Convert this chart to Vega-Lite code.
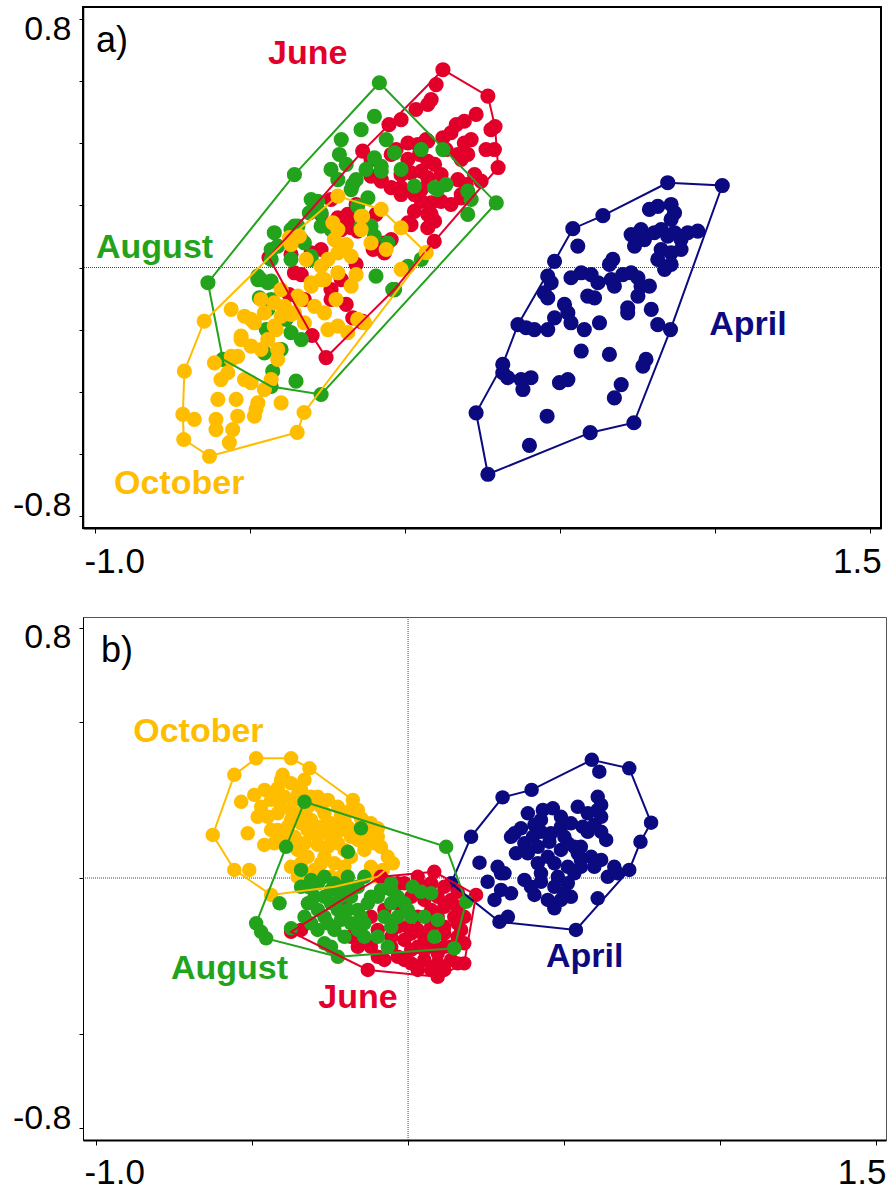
{
"$schema": "https://vega.github.io/schema/vega-lite/v6.json",
"background": "white",
"padding": {"left": 11, "top": 6, "right": 0, "bottom": 0},
"spacing": 36,
"config": {
 "axis": {"grid": false, "labelFont": "Liberation Sans", "labelFontSize": 34, "labelColor": "#000", "tickColor": "#000", "domainColor": "#000", "labelFlush": false}
},
"datasets": {
"ptsA": [
{"g":"April","x":0.847,"y":0.273},{"g":"April","x":1.023,"y":0.264},{"g":"April","x":0.856,"y":-0.200},{"g":"April","x":0.738,"y":-0.500},{"g":"April","x":0.597,"y":-0.532},{"g":"April","x":0.267,"y":-0.666},{"g":"April","x":0.229,"y":-0.468},{"g":"April","x":0.315,"y":-0.312},{"g":"April","x":0.364,"y":-0.184},{"g":"April","x":0.482,"y":0.020},{"g":"April","x":0.541,"y":0.125},{"g":"April","x":0.638,"y":0.167},
{"g":"April","x":0.557,"y":0.069},{"g":"April","x":0.670,"y":0.026},{"g":"April","x":0.659,"y":0.010},{"g":"April","x":0.788,"y":0.187},{"g":"April","x":0.815,"y":0.197},{"g":"April","x":0.858,"y":0.203},{"g":"April","x":0.869,"y":0.176},{"g":"April","x":0.858,"y":0.155},{"g":"April","x":0.729,"y":0.106},{"g":"April","x":0.761,"y":0.122},{"g":"April","x":0.772,"y":0.090},{"g":"April","x":0.740,"y":0.069},{"g":"April","x":0.804,"y":0.112},{"g":"April","x":0.826,"y":0.122},{"g":"April","x":0.847,"y":0.101},{"g":"April","x":0.869,"y":0.112},{"g":"April","x":0.890,"y":0.090},{"g":"April","x":0.912,"y":0.112},{"g":"April","x":0.944,"y":0.117},{"g":"April","x":0.826,"y":0.058},{"g":"April","x":0.858,"y":0.047},{"g":"April","x":0.890,"y":0.058},{"g":"April","x":0.815,"y":0.026},{"g":"April","x":0.837,"y":-0.006},{"g":"April","x":0.858,"y":0.010},{"g":"April","x":0.460,"y":-0.028},{"g":"April","x":0.471,"y":-0.049},{"g":"April","x":0.449,"y":-0.082},{"g":"April","x":0.460,"y":-0.098},{"g":"April","x":0.535,"y":-0.033},{"g":"April","x":0.568,"y":-0.017},{"g":"April","x":0.600,"y":-0.023},{"g":"April","x":0.622,"y":-0.049},{"g":"April","x":0.589,"y":-0.092},{"g":"April","x":0.611,"y":-0.098},{"g":"April","x":0.665,"y":-0.039},{"g":"April","x":0.675,"y":-0.060},{"g":"April","x":0.702,"y":-0.023},{"g":"April","x":0.729,"y":-0.017},{"g":"April","x":0.751,"y":-0.033},{"g":"April","x":0.761,"y":-0.060},{"g":"April","x":0.788,"y":-0.060},{"g":"April","x":0.751,"y":-0.092},{"g":"April","x":0.514,"y":-0.119},{"g":"April","x":0.525,"y":-0.146},{"g":"April","x":0.535,"y":-0.178},{"g":"April","x":0.482,"y":-0.162},{"g":"April","x":0.460,"y":-0.200},{"g":"April","x":0.718,"y":-0.130},{"g":"April","x":0.718,"y":-0.146},{"g":"April","x":0.794,"y":-0.135},{"g":"April","x":0.815,"y":-0.184},{"g":"April","x":0.390,"y":-0.194},{"g":"April","x":0.417,"y":-0.200},{"g":"April","x":0.578,"y":-0.200},{"g":"April","x":0.627,"y":-0.178},{"g":"April","x":0.568,"y":-0.269},{"g":"April","x":0.659,"y":-0.280},{"g":"April","x":0.777,"y":-0.296},{"g":"April","x":0.767,"y":-0.318},{"g":"April","x":0.315,"y":-0.339},{"g":"April","x":0.331,"y":-0.355},{"g":"April","x":0.374,"y":-0.361},{"g":"April","x":0.406,"y":-0.355},{"g":"April","x":0.380,"y":-0.393},{"g":"April","x":0.498,"y":-0.371},{"g":"April","x":0.525,"y":-0.361},{"g":"April","x":0.697,"y":-0.377},{"g":"April","x":0.675,"y":-0.420},{"g":"April","x":0.458,"y":-0.479},{"g":"April","x":0.401,"y":-0.573},
{"g":"June","x":0.122,"y":0.637},{"g":"June","x":0.267,"y":0.552},{"g":"June","x":0.290,"y":0.454},{"g":"June","x":0.300,"y":0.322},{"g":"June","x":0.094,"y":0.084},{"g":"June","x":-0.035,"y":-0.071},{"g":"June","x":-0.140,"y":-0.175},{"g":"June","x":-0.255,"y":-0.290},{"g":"June","x":-0.300,"y":-0.219},{"g":"June","x":-0.374,"y":-0.087},{"g":"June","x":-0.439,"y":0.032},{"g":"June","x":-0.137,"y":0.375},{"g":"June","x":-0.052,"y":0.460},
{"g":"June","x":0.100,"y":0.589},{"g":"June","x":0.073,"y":0.525},{"g":"June","x":0.191,"y":0.471},{"g":"June","x":0.288,"y":0.380},{"g":"June","x":0.009,"y":0.401},{"g":"June","x":0.041,"y":0.396},{"g":"June","x":0.073,"y":0.407},{"g":"June","x":0.122,"y":0.418},{"g":"June","x":0.148,"y":0.434},{"g":"June","x":0.191,"y":0.401},{"g":"June","x":-0.045,"y":0.364},{"g":"June","x":0.009,"y":0.348},{"g":"June","x":0.046,"y":0.364},{"g":"June","x":0.073,"y":0.342},{"g":"June","x":0.095,"y":0.332},{"g":"June","x":0.170,"y":0.364},{"g":"June","x":0.202,"y":0.364},{"g":"June","x":-0.013,"y":0.299},{"g":"June","x":0.019,"y":0.305},{"g":"June","x":0.052,"y":0.310},{"g":"June","x":0.073,"y":0.289},{"g":"June","x":-0.110,"y":0.294},{"g":"June","x":-0.077,"y":0.278},{"g":"June","x":-0.045,"y":0.257},{"g":"June","x":-0.013,"y":0.257},{"g":"June","x":0.030,"y":0.235},{"g":"June","x":0.052,"y":0.213},{"g":"June","x":0.084,"y":0.208},{"g":"June","x":0.116,"y":0.213},{"g":"June","x":0.170,"y":0.283},{"g":"June","x":0.181,"y":0.235},{"g":"June","x":0.224,"y":0.299},{"g":"June","x":0.245,"y":0.278},{"g":"June","x":0.073,"y":0.171},{"g":"June","x":0.095,"y":0.149},{"g":"June","x":0.073,"y":0.128},{"g":"June","x":0.030,"y":0.181},{"g":"June","x":0.009,"y":0.144},{"g":"June","x":0.181,"y":0.224},{"g":"June","x":-0.185,"y":0.160},{"g":"June","x":-0.174,"y":0.128},{"g":"June","x":-0.153,"y":0.117},{"g":"June","x":-0.217,"y":0.160},{"g":"June","x":-0.185,"y":0.171},{"g":"June","x":-0.153,"y":0.122},{"g":"June","x":-0.067,"y":0.047},{"g":"June","x":-0.303,"y":0.047},{"g":"June","x":-0.357,"y":-0.017},{"g":"June","x":-0.196,"y":0.155},{"g":"June","x":-0.067,"y":0.079},{"g":"June","x":-0.239,"y":-0.071},{"g":"June","x":-0.169,"y":-0.162},{"g":"June","x":-0.137,"y":-0.173},{"g":"June","x":-0.325,"y":-0.103},{"g":"June","x":-0.206,"y":0.122},{"g":"June","x":-0.239,"y":0.219},{"g":"June","x":-0.158,"y":0.203},{"g":"June","x":-0.094,"y":0.171},{"g":"June","x":-0.335,"y":0.090},{"g":"June","x":-0.271,"y":0.171},
{"g":"June","x":-0.013,"y":0.476},{"g":"June","x":0.035,"y":0.509},{"g":"June","x":0.084,"y":0.541},{"g":"June","x":0.165,"y":0.460},{"g":"June","x":0.213,"y":0.412},{"g":"June","x":0.261,"y":0.380},{"g":"June","x":0.181,"y":0.348},{"g":"June","x":0.116,"y":0.299},{"g":"June","x":0.052,"y":0.251},{"g":"June","x":-0.013,"y":0.235},{"g":"June","x":-0.077,"y":0.283},{"g":"June","x":-0.110,"y":0.348},{"g":"June","x":-0.029,"y":0.380},{"g":"June","x":0.068,"y":0.412},{"g":"June","x":0.132,"y":0.380},{"g":"June","x":0.197,"y":0.267},{"g":"June","x":0.148,"y":0.203},{"g":"June","x":0.084,"y":0.171},{"g":"June","x":0.019,"y":0.138},{"g":"June","x":-0.045,"y":0.090},{"g":"June","x":-0.103,"y":0.058},{"g":"June","x":-0.158,"y":0.010},{"g":"June","x":-0.206,"y":-0.039},{"g":"June","x":-0.239,"y":-0.103},{"g":"June","x":-0.190,"y":-0.119},{"g":"June","x":-0.271,"y":0.058},{"g":"June","x":-0.335,"y":-0.023},{"g":"June","x":-0.368,"y":0.042},{"g":"June","x":0.229,"y":0.493},{"g":"June","x":0.277,"y":0.444},
{"g":"August","x":-0.083,"y":0.595},{"g":"August","x":0.294,"y":0.208},{"g":"August","x":-0.271,"y":-0.409},{"g":"August","x":-0.432,"y":-0.383},{"g":"August","x":-0.588,"y":-0.296},{"g":"August","x":-0.636,"y":-0.049},{"g":"August","x":-0.357,"y":0.299},
{"g":"August","x":-0.099,"y":0.487},{"g":"August","x":-0.212,"y":0.364},{"g":"August","x":-0.217,"y":0.283},{"g":"August","x":-0.169,"y":0.267},{"g":"August","x":-0.077,"y":0.326},{"g":"August","x":-0.034,"y":0.369},{"g":"August","x":0.030,"y":0.262},{"g":"August","x":0.105,"y":0.251},{"g":"August","x":0.122,"y":0.380},{"g":"August","x":-0.292,"y":0.197},{"g":"August","x":-0.309,"y":0.176},{"g":"August","x":-0.422,"y":0.112},{"g":"August","x":-0.357,"y":0.133},{"g":"August","x":-0.335,"y":0.090},{"g":"August","x":-0.411,"y":0.069},{"g":"August","x":-0.475,"y":-0.028},{"g":"August","x":-0.443,"y":-0.049},{"g":"August","x":-0.368,"y":0.026},{"g":"August","x":-0.228,"y":0.112},{"g":"August","x":-0.196,"y":0.069},{"g":"August","x":-0.099,"y":0.101},{"g":"August","x":-0.034,"y":-0.071},{"g":"August","x":-0.094,"y":-0.028},{"g":"August","x":0.052,"y":0.026},{"g":"August","x":-0.271,"y":0.176},{"g":"August","x":-0.142,"y":0.133},{"g":"August","x":-0.120,"y":0.224},{"g":"August","x":-0.099,"y":0.353},{"g":"August","x":-0.077,"y":0.310},{"g":"August","x":0.095,"y":0.257},{"g":"August","x":0.202,"y":0.246},{"g":"August","x":0.202,"y":0.171},{"g":"August","x":-0.282,"y":0.213},{"g":"August","x":-0.432,"y":0.026},{"g":"August","x":-0.346,"y":0.133},{"g":"August","x":-0.325,"y":0.079},{"g":"August","x":-0.303,"y":0.036},{"g":"August","x":-0.282,"y":0.187},{"g":"August","x":-0.475,"y":-0.039},{"g":"August","x":-0.432,"y":-0.044},{"g":"August","x":-0.470,"y":-0.098},{"g":"August","x":-0.443,"y":-0.135},{"g":"August","x":-0.368,"y":-0.210},{"g":"August","x":-0.454,"y":-0.275},{"g":"August","x":-0.427,"y":-0.334},{"g":"August","x":-0.352,"y":-0.366},{"g":"August","x":-0.040,"y":-0.071},{"g":"August","x":0.009,"y":0.004},{"g":"August","x":-0.110,"y":0.133},{"g":"August","x":-0.056,"y":0.079},{"g":"August","x":-0.153,"y":0.197},{"g":"August","x":-0.271,"y":0.133},{"g":"August","x":-0.174,"y":0.251},{"g":"August","x":-0.126,"y":0.316},{"g":"August","x":-0.190,"y":0.332},
{"g":"August","x":-0.206,"y":0.412},{"g":"August","x":-0.142,"y":0.444},{"g":"August","x":-0.061,"y":0.412},{"g":"August","x":-0.239,"y":0.316},{"g":"August","x":-0.158,"y":0.283},{"g":"August","x":-0.303,"y":0.219},{"g":"August","x":-0.368,"y":0.122},{"g":"August","x":-0.432,"y":0.058},{"g":"August","x":-0.465,"y":-0.039},{"g":"August","x":-0.432,"y":-0.103},{"g":"August","x":-0.384,"y":-0.167},{"g":"August","x":-0.335,"y":-0.232},{"g":"August","x":-0.400,"y":-0.264},{"g":"August","x":-0.448,"y":-0.200},{"g":"August","x":-0.013,"y":0.316},{"g":"August","x":0.052,"y":0.380},{"g":"August","x":0.132,"y":0.267},{"g":"August","x":0.213,"y":0.219},{"g":"August","x":-0.239,"y":0.122},{"g":"August","x":-0.303,"y":0.026},
{"g":"October","x":-0.217,"y":0.230},{"g":"October","x":-0.077,"y":0.187},{"g":"October","x":0.068,"y":0.048},{"g":"October","x":-0.326,"y":-0.467},{"g":"October","x":-0.348,"y":-0.531},{"g":"October","x":-0.631,"y":-0.608},{"g":"October","x":-0.714,"y":-0.554},{"g":"October","x":-0.717,"y":-0.473},{"g":"October","x":-0.712,"y":-0.334},{"g":"October","x":-0.648,"y":-0.173},{"g":"October","x":-0.373,"y":0.096},
{"g":"October","x":-0.341,"y":0.101},{"g":"October","x":-0.217,"y":0.122},{"g":"October","x":-0.233,"y":0.144},{"g":"October","x":-0.142,"y":0.165},{"g":"October","x":-0.174,"y":0.036},{"g":"October","x":-0.110,"y":0.079},{"g":"October","x":-0.013,"y":0.128},{"g":"October","x":-0.013,"y":-0.006},{"g":"October","x":-0.249,"y":0.026},{"g":"October","x":-0.217,"y":-0.017},{"g":"October","x":-0.260,"y":-0.039},{"g":"October","x":-0.303,"y":-0.060},{"g":"October","x":-0.346,"y":-0.092},{"g":"October","x":-0.389,"y":-0.125},{"g":"October","x":-0.422,"y":-0.114},{"g":"October","x":-0.561,"y":-0.135},{"g":"October","x":-0.518,"y":-0.157},{"g":"October","x":-0.486,"y":-0.178},{"g":"October","x":-0.454,"y":-0.146},{"g":"October","x":-0.422,"y":-0.189},{"g":"October","x":-0.400,"y":-0.157},{"g":"October","x":-0.357,"y":-0.146},{"g":"October","x":-0.292,"y":-0.125},{"g":"October","x":-0.260,"y":-0.146},{"g":"October","x":-0.325,"y":-0.178},{"g":"October","x":-0.249,"y":-0.200},{"g":"October","x":-0.217,"y":-0.189},{"g":"October","x":-0.185,"y":-0.210},{"g":"October","x":-0.153,"y":-0.167},{"g":"October","x":-0.131,"y":-0.178},{"g":"October","x":-0.529,"y":-0.221},{"g":"October","x":-0.497,"y":-0.253},{"g":"October","x":-0.540,"y":-0.286},{"g":"October","x":-0.443,"y":-0.232},{"g":"October","x":-0.411,"y":-0.264},{"g":"October","x":-0.411,"y":-0.296},{"g":"October","x":-0.615,"y":-0.307},{"g":"October","x":-0.572,"y":-0.339},{"g":"October","x":-0.518,"y":-0.361},{"g":"October","x":-0.497,"y":-0.371},{"g":"October","x":-0.454,"y":-0.393},{"g":"October","x":-0.604,"y":-0.425},{"g":"October","x":-0.475,"y":-0.436},{"g":"October","x":-0.486,"y":-0.479},{"g":"October","x":-0.400,"y":-0.436},{"g":"October","x":-0.540,"y":-0.479},{"g":"October","x":-0.680,"y":-0.489},{"g":"October","x":-0.610,"y":-0.522},{"g":"October","x":-0.556,"y":-0.522},{"g":"October","x":-0.567,"y":-0.564},{"g":"October","x":-0.561,"y":-0.286},{"g":"October","x":-0.137,"y":0.165},{"g":"October","x":-0.228,"y":0.090},{"g":"October","x":-0.217,"y":0.047},{"g":"October","x":-0.303,"y":-0.049},{"g":"October","x":-0.271,"y":0.004},{"g":"October","x":-0.174,"y":-0.060},
{"g":"October","x":-0.368,"y":0.074},{"g":"October","x":-0.319,"y":0.026},{"g":"October","x":-0.271,"y":-0.039},{"g":"October","x":-0.335,"y":-0.103},{"g":"October","x":-0.400,"y":-0.071},{"g":"October","x":-0.465,"y":-0.103},{"g":"October","x":-0.497,"y":-0.167},{"g":"October","x":-0.529,"y":-0.232},{"g":"October","x":-0.561,"y":-0.296},{"g":"October","x":-0.465,"y":-0.264},{"g":"October","x":-0.416,"y":-0.200},{"g":"October","x":-0.368,"y":-0.151},{"g":"October","x":-0.190,"y":0.074},{"g":"October","x":-0.142,"y":0.122},{"g":"October","x":-0.061,"y":0.058},{"g":"October","x":-0.158,"y":-0.023},{"g":"October","x":-0.223,"y":-0.103},{"g":"October","x":-0.594,"y":-0.361},{"g":"October","x":-0.545,"y":-0.425},{"g":"October","x":-0.610,"y":-0.489},{"g":"October","x":-0.481,"y":-0.457},{"g":"October","x":-0.432,"y":-0.361}
],
"hullA": [
{"g":"April","o":1,"x":0.847,"y":0.273},{"g":"April","o":2,"x":1.023,"y":0.264},{"g":"April","o":3,"x":0.856,"y":-0.200},{"g":"April","o":4,"x":0.738,"y":-0.500},{"g":"April","o":5,"x":0.597,"y":-0.532},{"g":"April","o":6,"x":0.267,"y":-0.666},{"g":"April","o":7,"x":0.229,"y":-0.468},{"g":"April","o":8,"x":0.315,"y":-0.312},{"g":"April","o":9,"x":0.364,"y":-0.184},{"g":"April","o":10,"x":0.482,"y":0.020},{"g":"April","o":11,"x":0.541,"y":0.125},{"g":"April","o":12,"x":0.638,"y":0.167},{"g":"April","o":13,"x":0.847,"y":0.273},
{"g":"June","o":1,"x":0.122,"y":0.637},{"g":"June","o":2,"x":0.267,"y":0.552},{"g":"June","o":3,"x":0.290,"y":0.454},{"g":"June","o":4,"x":0.300,"y":0.322},{"g":"June","o":5,"x":0.094,"y":0.084},{"g":"June","o":6,"x":-0.035,"y":-0.071},{"g":"June","o":7,"x":-0.140,"y":-0.175},{"g":"June","o":8,"x":-0.255,"y":-0.290},{"g":"June","o":9,"x":-0.300,"y":-0.219},{"g":"June","o":10,"x":-0.374,"y":-0.087},{"g":"June","o":11,"x":-0.439,"y":0.032},{"g":"June","o":12,"x":-0.137,"y":0.375},{"g":"June","o":13,"x":-0.052,"y":0.460},{"g":"June","o":14,"x":0.122,"y":0.637},
{"g":"August","o":1,"x":-0.083,"y":0.595},{"g":"August","o":2,"x":0.294,"y":0.208},{"g":"August","o":3,"x":-0.271,"y":-0.409},{"g":"August","o":4,"x":-0.432,"y":-0.383},{"g":"August","o":5,"x":-0.588,"y":-0.296},{"g":"August","o":6,"x":-0.636,"y":-0.049},{"g":"August","o":7,"x":-0.357,"y":0.299},{"g":"August","o":8,"x":-0.083,"y":0.595},
{"g":"October","o":1,"x":-0.217,"y":0.230},{"g":"October","o":2,"x":-0.077,"y":0.187},{"g":"October","o":3,"x":0.068,"y":0.048},{"g":"October","o":4,"x":-0.326,"y":-0.467},{"g":"October","o":5,"x":-0.348,"y":-0.531},{"g":"October","o":6,"x":-0.631,"y":-0.608},{"g":"October","o":7,"x":-0.714,"y":-0.554},{"g":"October","o":8,"x":-0.717,"y":-0.473},{"g":"October","o":9,"x":-0.712,"y":-0.334},{"g":"October","o":10,"x":-0.648,"y":-0.173},{"g":"October","o":11,"x":-0.373,"y":0.096},{"g":"October","o":12,"x":-0.217,"y":0.230}
],
"ptsB": [
{"g":"April","x":0.589,"y":0.378},{"g":"April","x":0.709,"y":0.351},{"g":"April","x":0.779,"y":0.177},{"g":"April","x":0.745,"y":0.116},{"g":"April","x":0.709,"y":0.026},{"g":"April","x":0.538,"y":-0.166},{"g":"April","x":0.293,"y":-0.140},{"g":"April","x":0.138,"y":-0.017},{"g":"April","x":0.202,"y":0.132},{"g":"April","x":0.303,"y":0.258},{"g":"April","x":0.396,"y":0.282},
{"g":"April","x":0.613,"y":0.340},{"g":"April","x":0.608,"y":0.260},{"g":"April","x":0.619,"y":0.234},{"g":"April","x":0.544,"y":0.228},{"g":"April","x":0.432,"y":0.218},{"g":"April","x":0.464,"y":0.223},{"g":"April","x":0.490,"y":0.196},{"g":"April","x":0.362,"y":0.159},{"g":"April","x":0.341,"y":0.143},{"g":"April","x":0.405,"y":0.170},{"g":"April","x":0.400,"y":0.132},{"g":"April","x":0.373,"y":0.111},{"g":"April","x":0.426,"y":0.148},{"g":"April","x":0.453,"y":0.116},{"g":"April","x":0.501,"y":0.132},{"g":"April","x":0.560,"y":0.164},{"g":"April","x":0.597,"y":0.170},{"g":"April","x":0.619,"y":0.148},{"g":"April","x":0.635,"y":0.122},{"g":"April","x":0.576,"y":0.148},{"g":"April","x":0.533,"y":0.100},{"g":"April","x":0.544,"y":0.079},{"g":"April","x":0.490,"y":0.090},{"g":"April","x":0.448,"y":0.068},{"g":"April","x":0.416,"y":0.047},{"g":"April","x":0.346,"y":0.079},{"g":"April","x":0.229,"y":0.049},{"g":"April","x":0.287,"y":0.036},{"g":"April","x":0.309,"y":0.015},{"g":"April","x":0.255,"y":-0.012},{"g":"April","x":0.298,"y":-0.038},{"g":"April","x":0.330,"y":-0.049},{"g":"April","x":0.277,"y":-0.070},{"g":"April","x":0.320,"y":-0.124},{"g":"April","x":0.394,"y":-0.028},{"g":"April","x":0.405,"y":-0.054},{"g":"April","x":0.426,"y":0.015},{"g":"April","x":0.426,"y":-0.012},{"g":"April","x":0.480,"y":0.004},{"g":"April","x":0.512,"y":-0.017},{"g":"April","x":0.533,"y":0.015},{"g":"April","x":0.522,"y":-0.060},{"g":"April","x":0.469,"y":-0.097},{"g":"April","x":0.490,"y":-0.070},{"g":"April","x":0.608,"y":-0.065},{"g":"April","x":0.619,"y":0.058},{"g":"April","x":0.661,"y":0.036},{"g":"April","x":0.640,"y":0.004},{"g":"April","x":0.672,"y":0.015},{"g":"April","x":0.587,"y":0.068},{"g":"April","x":0.554,"y":0.036},
{"g":"April","x":0.384,"y":0.207},{"g":"April","x":0.426,"y":0.186},{"g":"April","x":0.458,"y":0.143},{"g":"April","x":0.490,"y":0.164},{"g":"April","x":0.522,"y":0.175},{"g":"April","x":0.576,"y":0.207},{"g":"April","x":0.608,"y":0.218},{"g":"April","x":0.619,"y":0.196},{"g":"April","x":0.384,"y":0.079},{"g":"April","x":0.416,"y":0.100},{"g":"April","x":0.469,"y":0.047},{"g":"April","x":0.512,"y":0.036},{"g":"April","x":0.554,"y":0.058},{"g":"April","x":0.597,"y":0.036},{"g":"April","x":0.512,"y":0.111},{"g":"April","x":0.554,"y":0.100},{"g":"April","x":0.373,"y":-0.006},{"g":"April","x":0.469,"y":-0.028},{"g":"April","x":0.501,"y":-0.049},{"g":"April","x":0.448,"y":-0.070},{"g":"April","x":0.298,"y":0.015},{"g":"April","x":0.330,"y":0.132},
{"g":"October","x":-0.557,"y":0.330},{"g":"October","x":-0.487,"y":0.383},{"g":"October","x":-0.375,"y":0.383},{"g":"October","x":-0.316,"y":0.351},{"g":"October","x":-0.177,"y":0.250},{"g":"October","x":-0.097,"y":0.159},{"g":"October","x":-0.049,"y":0.047},{"g":"October","x":-0.097,"y":0.004},{"g":"October","x":-0.236,"y":-0.028},{"g":"October","x":-0.439,"y":-0.054},{"g":"October","x":-0.557,"y":0.026},{"g":"October","x":-0.626,"y":0.138},
{"g":"October","x":-0.402,"y":0.330},{"g":"October","x":-0.375,"y":0.303},{"g":"October","x":-0.418,"y":0.287},{"g":"October","x":-0.332,"y":0.314},{"g":"October","x":-0.354,"y":0.266},{"g":"October","x":-0.493,"y":0.266},{"g":"October","x":-0.535,"y":0.244},{"g":"October","x":-0.471,"y":0.228},{"g":"October","x":-0.439,"y":0.250},{"g":"October","x":-0.407,"y":0.228},{"g":"October","x":-0.375,"y":0.218},{"g":"October","x":-0.321,"y":0.228},{"g":"October","x":-0.289,"y":0.260},{"g":"October","x":-0.279,"y":0.228},{"g":"October","x":-0.257,"y":0.250},{"g":"October","x":-0.225,"y":0.228},{"g":"October","x":-0.215,"y":0.202},{"g":"October","x":-0.183,"y":0.218},{"g":"October","x":-0.151,"y":0.191},{"g":"October","x":-0.129,"y":0.154},{"g":"October","x":-0.161,"y":0.154},{"g":"October","x":-0.193,"y":0.164},{"g":"October","x":-0.514,"y":0.143},{"g":"October","x":-0.461,"y":0.106},{"g":"October","x":-0.429,"y":0.111},{"g":"October","x":-0.418,"y":0.154},{"g":"October","x":-0.386,"y":0.164},{"g":"October","x":-0.364,"y":0.132},{"g":"October","x":-0.343,"y":0.175},{"g":"October","x":-0.311,"y":0.186},{"g":"October","x":-0.311,"y":0.143},{"g":"October","x":-0.279,"y":0.164},{"g":"October","x":-0.257,"y":0.143},{"g":"October","x":-0.289,"y":0.106},{"g":"October","x":-0.257,"y":0.100},{"g":"October","x":-0.225,"y":0.111},{"g":"October","x":-0.204,"y":0.090},{"g":"October","x":-0.161,"y":0.122},{"g":"October","x":-0.140,"y":0.090},{"g":"October","x":-0.108,"y":0.111},{"g":"October","x":-0.087,"y":0.100},{"g":"October","x":-0.375,"y":0.036},{"g":"October","x":-0.343,"y":0.047},{"g":"October","x":-0.300,"y":0.026},{"g":"October","x":-0.354,"y":0.004},{"g":"October","x":-0.268,"y":0.068},{"g":"October","x":-0.236,"y":0.047},{"g":"October","x":-0.204,"y":0.036},{"g":"October","x":-0.247,"y":0.004},{"g":"October","x":-0.183,"y":0.068},{"g":"October","x":-0.119,"y":0.036},{"g":"October","x":-0.081,"y":0.026},{"g":"October","x":-0.509,"y":0.026},
{"g":"October","x":-0.460,"y":0.282},{"g":"October","x":-0.428,"y":0.271},{"g":"October","x":-0.396,"y":0.260},{"g":"October","x":-0.364,"y":0.250},{"g":"October","x":-0.450,"y":0.196},{"g":"October","x":-0.418,"y":0.207},{"g":"October","x":-0.375,"y":0.186},{"g":"October","x":-0.343,"y":0.207},{"g":"October","x":-0.322,"y":0.154},{"g":"October","x":-0.290,"y":0.132},{"g":"October","x":-0.247,"y":0.175},{"g":"October","x":-0.236,"y":0.132},{"g":"October","x":-0.215,"y":0.154},{"g":"October","x":-0.183,"y":0.132},{"g":"October","x":-0.140,"y":0.122},{"g":"October","x":-0.482,"y":0.196},{"g":"October","x":-0.439,"y":0.154},{"g":"October","x":-0.396,"y":0.122},{"g":"October","x":-0.354,"y":0.090},{"g":"October","x":-0.322,"y":0.068},{"g":"October","x":-0.279,"y":0.047},{"g":"October","x":-0.332,"y":0.111},{"g":"October","x":-0.407,"y":0.314},{"g":"October","x":-0.343,"y":0.282},{"g":"October","x":-0.311,"y":0.260},{"g":"October","x":-0.268,"y":0.207},{"g":"October","x":-0.204,"y":0.186},{"g":"October","x":-0.161,"y":0.218},{"g":"October","x":-0.119,"y":0.175},{"g":"October","x":-0.097,"y":0.132},{"g":"October","x":-0.065,"y":0.068},{"g":"October","x":-0.215,"y":0.004},
{"g":"June","x":-0.087,"y":0.004},{"g":"June","x":0.084,"y":0.020},{"g":"June","x":0.218,"y":-0.054},{"g":"June","x":0.180,"y":-0.273},{"g":"June","x":0.095,"y":-0.316},{"g":"June","x":-0.129,"y":-0.294},{"g":"June","x":-0.375,"y":-0.172},{"g":"June","x":-0.204,"y":-0.065},
{"g":"June","x":-0.044,"y":-0.028},{"g":"June","x":-0.012,"y":-0.017},{"g":"June","x":0.031,"y":0.004},{"g":"June","x":0.074,"y":-0.017},{"g":"June","x":0.116,"y":-0.028},{"g":"June","x":0.159,"y":-0.044},{"g":"June","x":0.010,"y":-0.060},{"g":"June","x":0.052,"y":-0.070},{"g":"June","x":-0.022,"y":-0.092},{"g":"June","x":-0.119,"y":-0.124},{"g":"June","x":-0.076,"y":-0.102},{"g":"June","x":-0.044,"y":-0.145},{"g":"June","x":-0.001,"y":-0.156},{"g":"June","x":0.031,"y":-0.166},{"g":"June","x":0.074,"y":-0.156},{"g":"June","x":0.116,"y":-0.156},{"g":"June","x":0.148,"y":-0.124},{"g":"June","x":-0.012,"y":-0.198},{"g":"June","x":0.031,"y":-0.220},{"g":"June","x":0.074,"y":-0.209},{"g":"June","x":0.116,"y":-0.220},{"g":"June","x":0.159,"y":-0.188},{"g":"June","x":0.010,"y":-0.273},{"g":"June","x":0.052,"y":-0.262},{"g":"June","x":0.095,"y":-0.273},{"g":"June","x":0.138,"y":-0.262},{"g":"June","x":-0.033,"y":-0.252},{"g":"June","x":-0.076,"y":-0.262},{"g":"June","x":-0.119,"y":-0.220},{"g":"June","x":-0.183,"y":-0.188},{"g":"June","x":-0.161,"y":-0.220},{"g":"June","x":-0.343,"y":-0.166},{"g":"June","x":-0.097,"y":-0.166},{"g":"June","x":-0.054,"y":-0.188},{"g":"June","x":0.159,"y":-0.273},{"g":"June","x":0.116,"y":-0.092},{"g":"June","x":0.180,"y":-0.209},
{"g":"June","x":-0.033,"y":-0.017},{"g":"June","x":0.052,"y":-0.028},{"g":"June","x":0.095,"y":-0.060},{"g":"June","x":0.138,"y":-0.070},{"g":"June","x":0.159,"y":-0.092},{"g":"June","x":0.074,"y":-0.102},{"g":"June","x":0.031,"y":-0.124},{"g":"June","x":0.095,"y":-0.124},{"g":"June","x":0.159,"y":-0.145},{"g":"June","x":0.052,"y":-0.188},{"g":"June","x":0.010,"y":-0.230},{"g":"June","x":0.052,"y":-0.230},{"g":"June","x":0.095,"y":-0.241},{"g":"June","x":0.138,"y":-0.220},{"g":"June","x":-0.012,"y":-0.262},{"g":"June","x":0.031,"y":-0.294},{"g":"June","x":0.074,"y":-0.294},{"g":"June","x":0.116,"y":-0.294},{"g":"June","x":-0.054,"y":-0.220},{"g":"June","x":-0.097,"y":-0.252},{"g":"June","x":0.170,"y":-0.166},{"g":"June","x":0.010,"y":-0.178},{"g":"June","x":-0.033,"y":-0.156},{"g":"June","x":0.116,"y":-0.178},{"g":"June","x":0.180,"y":-0.124},
{"g":"August","x":-0.332,"y":0.244},{"g":"August","x":0.122,"y":0.100},{"g":"August","x":0.186,"y":-0.076},{"g":"August","x":0.148,"y":-0.225},{"g":"August","x":-0.225,"y":-0.252},{"g":"August","x":-0.455,"y":-0.193},{"g":"August","x":-0.487,"y":-0.145},{"g":"August","x":-0.391,"y":0.100},
{"g":"August","x":-0.151,"y":0.159},{"g":"August","x":-0.193,"y":0.084},{"g":"August","x":-0.343,"y":0.026},{"g":"August","x":-0.412,"y":-0.081},{"g":"August","x":-0.471,"y":-0.172},{"g":"August","x":-0.375,"y":-0.161},{"g":"August","x":-0.321,"y":-0.028},{"g":"August","x":-0.289,"y":-0.017},{"g":"August","x":-0.268,"y":-0.060},{"g":"August","x":-0.247,"y":-0.038},{"g":"August","x":-0.204,"y":-0.028},{"g":"August","x":-0.321,"y":-0.081},{"g":"August","x":-0.289,"y":-0.102},{"g":"August","x":-0.311,"y":-0.145},{"g":"August","x":-0.268,"y":-0.124},{"g":"August","x":-0.236,"y":-0.166},{"g":"August","x":-0.204,"y":-0.188},{"g":"August","x":-0.268,"y":-0.209},{"g":"August","x":-0.183,"y":-0.060},{"g":"August","x":-0.161,"y":-0.028},{"g":"August","x":-0.140,"y":0.004},{"g":"August","x":-0.161,"y":-0.102},{"g":"August","x":-0.129,"y":-0.081},{"g":"August","x":-0.097,"y":-0.060},{"g":"August","x":-0.054,"y":-0.081},{"g":"August","x":-0.140,"y":-0.145},{"g":"August","x":-0.097,"y":-0.188},{"g":"August","x":-0.065,"y":-0.220},{"g":"August","x":-0.033,"y":-0.124},{"g":"August","x":0.010,"y":-0.124},{"g":"August","x":0.052,"y":-0.124},{"g":"August","x":0.095,"y":-0.134},{"g":"August","x":0.042,"y":-0.044},{"g":"August","x":0.074,"y":-0.049},{"g":"August","x":-0.054,"y":-0.038},{"g":"August","x":0.084,"y":-0.188},{"g":"August","x":-0.193,"y":0.004},{"g":"August","x":-0.225,"y":-0.102},{"g":"August","x":-0.012,"y":-0.081},{"g":"August","x":0.015,"y":-0.028},
{"g":"August","x":-0.311,"y":-0.006},{"g":"August","x":-0.268,"y":0.004},{"g":"August","x":-0.236,"y":-0.017},{"g":"August","x":-0.300,"y":-0.060},{"g":"August","x":-0.247,"y":-0.081},{"g":"August","x":-0.215,"y":-0.060},{"g":"August","x":-0.193,"y":-0.102},{"g":"August","x":-0.290,"y":-0.166},{"g":"August","x":-0.258,"y":-0.145},{"g":"August","x":-0.215,"y":-0.134},{"g":"August","x":-0.183,"y":-0.145},{"g":"August","x":-0.151,"y":-0.124},{"g":"August","x":-0.119,"y":-0.060},{"g":"August","x":-0.087,"y":-0.038},{"g":"August","x":-0.033,"y":-0.060},{"g":"August","x":-0.001,"y":-0.102},{"g":"August","x":-0.076,"y":-0.124},{"g":"August","x":-0.054,"y":-0.156},{"g":"August","x":-0.140,"y":-0.188},{"g":"August","x":-0.247,"y":-0.220},{"g":"August","x":-0.343,"y":-0.028},{"g":"August","x":-0.332,"y":-0.124},{"g":"August","x":-0.161,"y":-0.166},{"g":"August","x":-0.054,"y":-0.017}
],
"hullB": [
{"g":"April","o":1,"x":0.589,"y":0.378},{"g":"April","o":2,"x":0.709,"y":0.351},{"g":"April","o":3,"x":0.779,"y":0.177},{"g":"April","o":4,"x":0.745,"y":0.116},{"g":"April","o":5,"x":0.709,"y":0.026},{"g":"April","o":6,"x":0.538,"y":-0.166},{"g":"April","o":7,"x":0.293,"y":-0.140},{"g":"April","o":8,"x":0.138,"y":-0.017},{"g":"April","o":9,"x":0.202,"y":0.132},{"g":"April","o":10,"x":0.303,"y":0.258},{"g":"April","o":11,"x":0.396,"y":0.282},{"g":"April","o":12,"x":0.589,"y":0.378},
{"g":"October","o":1,"x":-0.557,"y":0.330},{"g":"October","o":2,"x":-0.487,"y":0.383},{"g":"October","o":3,"x":-0.375,"y":0.383},{"g":"October","o":4,"x":-0.316,"y":0.351},{"g":"October","o":5,"x":-0.177,"y":0.250},{"g":"October","o":6,"x":-0.097,"y":0.159},{"g":"October","o":7,"x":-0.049,"y":0.047},{"g":"October","o":8,"x":-0.097,"y":0.004},{"g":"October","o":9,"x":-0.236,"y":-0.028},{"g":"October","o":10,"x":-0.439,"y":-0.054},{"g":"October","o":11,"x":-0.557,"y":0.026},{"g":"October","o":12,"x":-0.626,"y":0.138},{"g":"October","o":13,"x":-0.557,"y":0.330},
{"g":"August","o":1,"x":-0.332,"y":0.244},{"g":"August","o":2,"x":0.122,"y":0.100},{"g":"August","o":3,"x":0.186,"y":-0.076},{"g":"August","o":4,"x":0.148,"y":-0.225},{"g":"August","o":5,"x":-0.225,"y":-0.252},{"g":"August","o":6,"x":-0.455,"y":-0.193},{"g":"August","o":7,"x":-0.487,"y":-0.145},{"g":"August","o":8,"x":-0.391,"y":0.100},{"g":"August","o":9,"x":-0.332,"y":0.244},
{"g":"June","o":1,"x":-0.087,"y":0.004},{"g":"June","o":2,"x":0.084,"y":0.020},{"g":"June","o":3,"x":0.218,"y":-0.054},{"g":"June","o":4,"x":0.180,"y":-0.273},{"g":"June","o":5,"x":0.095,"y":-0.316},{"g":"June","o":6,"x":-0.129,"y":-0.294},{"g":"June","o":7,"x":-0.375,"y":-0.172},{"g":"June","o":8,"x":-0.204,"y":-0.065},{"g":"June","o":9,"x":-0.087,"y":0.004}
],
"labA": [
{"t":"June","g":"June","x":-0.442,"y":0.654},{"t":"August","g":"August","x":-0.997,"y":0.029},{"t":"October","g":"October","x":-0.939,"y":-0.731},{"t":"April","g":"April","x":0.981,"y":-0.219}
],
"labB": [
{"t":"October","g":"October","x":-0.881,"y":0.435},{"t":"April","g":"April","x":0.442,"y":-0.285},{"t":"August","g":"August","x":-0.760,"y":-0.323},{"t":"June","g":"June","x":-0.288,"y":-0.416}
],
"panA": [{"t":"a)","x":-0.997,"y":0.695}],
"panB": [{"t":"b)","x":-0.984,"y":0.691}]
},
"vconcat": [
{
 "width": 798, "height": 521,
 "view": {"stroke": "#000", "strokeWidth": 2},
 "layer": [
  {"data": {"values": [{}]}, "mark": {"type": "rule", "strokeDash": [1, 1], "color": "#444", "strokeWidth": 1},
   "encoding": {"y": {"datum": 0, "type": "quantitative", "title": null, "scale": {"domain": [-0.839, 0.839], "nice": false, "zero": false}}}},
  {"data": {"name": "ptsA"}, "mark": {"type": "circle", "size": 230, "opacity": 1},
   "encoding": {
    "x": {"field": "x", "type": "quantitative", "title": null, "scale": {"domain": [-1.039, 1.535], "nice": false, "zero": false},
      "axis": {"values": [-1, -0.5, 0, 0.5, 1, 1.5], "labelExpr": "datum.value == -1 ? '-1.0' : datum.value == 1.5 ? '1.5' : ''", "labelAlign": {"condition": {"test": "datum.value < 0", "value": "left"}, "value": "right"}, "labelOffset": {"condition": {"test": "datum.value < 0", "value": -11}, "value": 11}, "labelBaseline": "top", "labelPadding": 11, "tickSize": 5, "domainWidth": 2, "labelFontSize": 35, "grid": false}},
    "y": {"field": "y", "type": "quantitative", "title": null, "scale": {"domain": [-0.839, 0.839], "nice": false, "zero": false},
      "axis": {"values": [-0.8, -0.6, -0.4, -0.2, 0, 0.2, 0.4, 0.6, 0.8], "labelExpr": "datum.value == 0.8 ? '0.8' : datum.value == -0.8 ? '-0.8' : ''", "labelBaseline": {"condition": {"test": "datum.value > 0", "value": "top"}, "value": "alphabetic"}, "labelOffset": {"condition": {"test": "datum.value > 0", "value": -7}, "value": 0}, "labelAlign": "right", "labelPadding": 8, "tickSize": 4, "domainWidth": 1.5, "grid": false}},
    "color": {"field": "g", "type": "nominal", "scale": {"domain": ["April", "June", "August", "October"], "range": ["#0b0a80", "#e2002b", "#23a31b", "#ffbd00"]}, "legend": null}
   }},
  {"data": {"name": "hullA"}, "mark": {"type": "line", "strokeWidth": 2},
   "encoding": {
    "x": {"field": "x", "type": "quantitative", "title": null, "scale": {"domain": [-1.039, 1.535], "nice": false, "zero": false}},
    "y": {"field": "y", "type": "quantitative", "title": null, "scale": {"domain": [-0.839, 0.839], "nice": false, "zero": false}},
    "color": {"field": "g", "type": "nominal", "scale": {"domain": ["April", "June", "August", "October"], "range": ["#0b0a80", "#e2002b", "#23a31b", "#ffbd00"]}, "legend": null},
    "order": {"field": "o", "type": "quantitative"}
   }},
  {"data": {"name": "labA"}, "mark": {"type": "text", "align": "left", "baseline": "alphabetic", "font": "Liberation Sans", "fontWeight": "bold", "fontSize": 34},
   "encoding": {
    "x": {"field": "x", "type": "quantitative", "title": null, "scale": {"domain": [-1.039, 1.535], "nice": false, "zero": false}},
    "y": {"field": "y", "type": "quantitative", "title": null, "scale": {"domain": [-0.839, 0.839], "nice": false, "zero": false}},
    "text": {"field": "t"},
    "color": {"field": "g", "type": "nominal", "scale": {"domain": ["April", "June", "August", "October"], "range": ["#0b0a80", "#e2002b", "#23a31b", "#ffbd00"]}, "legend": null}
   }},
  {"data": {"name": "panA"}, "mark": {"type": "text", "align": "left", "baseline": "alphabetic", "font": "Liberation Sans", "fontSize": 36, "color": "#000"},
   "encoding": {
    "x": {"field": "x", "type": "quantitative", "title": null, "scale": {"domain": [-1.039, 1.535], "nice": false, "zero": false}},
    "y": {"field": "y", "type": "quantitative", "title": null, "scale": {"domain": [-0.839, 0.839], "nice": false, "zero": false}},
    "text": {"field": "t"}
   }}
 ]
},
{
 "width": 803, "height": 523,
 "view": {"stroke": "#555", "strokeWidth": 1},
 "layer": [
  {"data": {"values": [{}]}, "mark": {"type": "rule", "strokeDash": [1, 1], "color": "#444", "strokeWidth": 1},
   "encoding": {"y": {"datum": 0, "type": "quantitative", "title": null, "scale": {"domain": [-0.838, 0.835], "nice": false, "zero": false}}}},
  {"data": {"values": [{}]}, "mark": {"type": "rule", "strokeDash": [1, 1], "color": "#444", "strokeWidth": 1},
   "encoding": {"x": {"datum": 0, "type": "quantitative", "title": null, "scale": {"domain": [-1.042, 1.532], "nice": false, "zero": false}}}},
  {"data": {"name": "ptsB"}, "mark": {"type": "circle", "size": 210, "opacity": 1},
   "encoding": {
    "x": {"field": "x", "type": "quantitative", "title": null, "scale": {"domain": [-1.042, 1.532], "nice": false, "zero": false},
      "axis": {"values": [-1, -0.5, 0, 0.5, 1, 1.5], "labelExpr": "datum.value == -1 ? '-1.0' : datum.value == 1.5 ? '1.5' : ''", "labelAlign": {"condition": {"test": "datum.value < 0", "value": "left"}, "value": "right"}, "labelOffset": {"condition": {"test": "datum.value < 0", "value": -12}, "value": 10}, "labelBaseline": "top", "labelPadding": 10, "tickSize": 5, "domainWidth": 2, "labelFontSize": 35, "grid": false}},
    "y": {"field": "y", "type": "quantitative", "title": null, "scale": {"domain": [-0.838, 0.835], "nice": false, "zero": false},
      "axis": {"values": [-0.8, -0.5, 0, 0.5, 0.8], "labelExpr": "datum.value == 0.8 ? '0.8' : datum.value == -0.8 ? '-0.8' : ''", "labelBaseline": {"condition": {"test": "datum.value > 0", "value": "top"}, "value": "alphabetic"}, "labelOffset": {"condition": {"test": "datum.value > 0", "value": -7}, "value": 0}, "labelAlign": "right", "labelPadding": 8, "tickSize": 4, "domainWidth": 1, "grid": false}},
    "color": {"field": "g", "type": "nominal", "scale": {"domain": ["April", "June", "August", "October"], "range": ["#0b0a80", "#e2002b", "#23a31b", "#ffbd00"]}, "legend": null}
   }},
  {"data": {"name": "hullB"}, "mark": {"type": "line", "strokeWidth": 2},
   "encoding": {
    "x": {"field": "x", "type": "quantitative", "title": null, "scale": {"domain": [-1.042, 1.532], "nice": false, "zero": false}},
    "y": {"field": "y", "type": "quantitative", "title": null, "scale": {"domain": [-0.838, 0.835], "nice": false, "zero": false}},
    "color": {"field": "g", "type": "nominal", "scale": {"domain": ["April", "June", "August", "October"], "range": ["#0b0a80", "#e2002b", "#23a31b", "#ffbd00"]}, "legend": null},
    "order": {"field": "o", "type": "quantitative"}
   }},
  {"data": {"name": "labB"}, "mark": {"type": "text", "align": "left", "baseline": "alphabetic", "font": "Liberation Sans", "fontWeight": "bold", "fontSize": 34},
   "encoding": {
    "x": {"field": "x", "type": "quantitative", "title": null, "scale": {"domain": [-1.042, 1.532], "nice": false, "zero": false}},
    "y": {"field": "y", "type": "quantitative", "title": null, "scale": {"domain": [-0.838, 0.835], "nice": false, "zero": false}},
    "text": {"field": "t"},
    "color": {"field": "g", "type": "nominal", "scale": {"domain": ["April", "June", "August", "October"], "range": ["#0b0a80", "#e2002b", "#23a31b", "#ffbd00"]}, "legend": null}
   }},
  {"data": {"name": "panB"}, "mark": {"type": "text", "align": "left", "baseline": "alphabetic", "font": "Liberation Sans", "fontSize": 36, "color": "#000"},
   "encoding": {
    "x": {"field": "x", "type": "quantitative", "title": null, "scale": {"domain": [-1.042, 1.532], "nice": false, "zero": false}},
    "y": {"field": "y", "type": "quantitative", "title": null, "scale": {"domain": [-0.838, 0.835], "nice": false, "zero": false}},
    "text": {"field": "t"}
   }}
 ]
}
]
}
